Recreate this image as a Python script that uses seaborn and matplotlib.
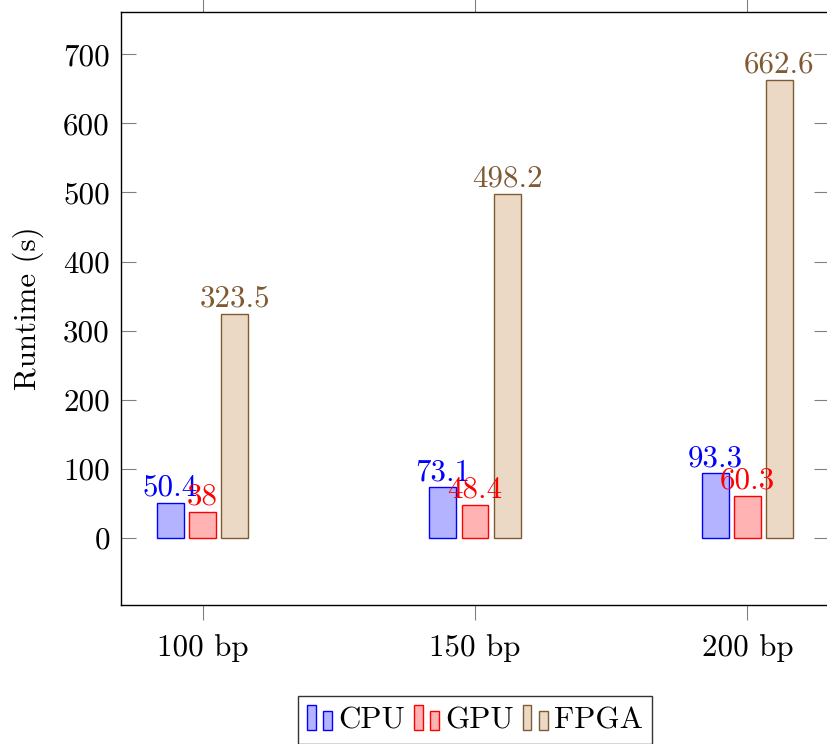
import matplotlib
matplotlib.use("Agg")
import matplotlib.pyplot as plt
import seaborn as sns
import pandas as pd
from matplotlib.patches import Rectangle
from matplotlib.legend_handler import HandlerBase

categories = ["100 bp", "150 bp", "200 bp"]
devices = ["CPU", "GPU", "FPGA"]
cpu = [50.4, 73.1, 93.3]
gpu = [38, 48.4, 60.3]
fpga = [323.5, 498.2, 662.6]
yticks = [0, 100, 200, 300, 400, 500, 600, 700]

fills = {"CPU": "#b3b3ff", "GPU": "#ffb3b3", "FPGA": "#ebd9c5"}
edges = {"CPU": "#0000ff", "GPU": "#ff0000", "FPGA": "#7f5a33"}

rows = []
for d, vals in zip(devices, [cpu, gpu, fpga]):
    for c, v in zip(categories, vals):
        rows.append({"Length": c, "Device": d, "Runtime": v})
df = pd.DataFrame(rows)

sns.set_style("white")
plt.rcParams["font.family"] = ["cmr10", "DejaVu Serif"]
plt.rcParams["axes.formatter.use_mathtext"] = True
plt.rcParams["mathtext.fontset"] = "cm"
plt.rcParams["text.color"] = "black"
plt.rcParams["axes.labelcolor"] = "black"
plt.rcParams["xtick.labelcolor"] = "black"
plt.rcParams["ytick.labelcolor"] = "black"
FS = 22.3

fig = plt.figure(figsize=(8.27, 7.44), dpi=100)
ax = fig.add_axes([121/827, 1-605/744, (829-121)/827, (605-12)/744])

sns.barplot(data=df, x="Length", y="Runtime", hue="Device", order=categories,
            hue_order=devices, palette=fills, width=0.354, gap=0.16,
            saturation=1, errorbar=None, ax=ax, legend=False, linewidth=1)

for cont, d, vals in zip(ax.containers, devices, [cpu, gpu, fpga]):
    for p in cont:
        p.set_edgecolor(edges[d])
        p.set_linewidth(1.0)
    labels = [("%g" % v) for v in vals]
    ax.bar_label(cont, labels=labels, color=edges[d], fontsize=FS, padding=1)

ax.set_xlim(-0.3, 2.3)
ax.set_ylim(-97, 761)
ax.set_yticks(yticks)
ax.set_yticklabels([str(t) for t in yticks])
ax.set_xlabel("")
ax.set_ylabel("Runtime (s)", fontsize=FS, labelpad=14, color="black")

for s in ax.spines.values():
    s.set_color("black")
    s.set_linewidth(1.0)
    s.set_visible(True)

ax.tick_params(axis="y", direction="in", left=True, right=True, length=11,
               width=0.8, color="#808080", labelsize=FS, pad=8, labelcolor="black")
ax.tick_params(axis="x", direction="out", bottom=True, top=True, length=11,
               width=0.8, color="#808080", labelsize=FS, pad=10, labelcolor="black")


class TwoBarHandler(HandlerBase):
    def create_artists(self, legend, orig_handle, xdescent, ydescent,
                       width, height, fontsize, trans):
        fc = orig_handle.get_facecolor()
        ec = orig_handle.get_edgecolor()
        w = width * 0.34
        r1 = Rectangle((-xdescent, -ydescent), w, height, facecolor=fc,
                       edgecolor=ec, linewidth=1.0, transform=trans)
        r2 = Rectangle((-xdescent + width * 0.66, -ydescent), w, height * 0.76,
                       facecolor=fc, edgecolor=ec, linewidth=1.0, transform=trans)
        return [r1, r2]


handles = [Rectangle((0, 0), 1, 1, facecolor=fills[d], edgecolor=edges[d]) for d in devices]
leg = fig.legend(handles, devices, loc="upper center", bbox_to_anchor=(475/827, 1-696/744),
                 ncol=3, fontsize=FS, frameon=True, fancybox=False, edgecolor="black",
                 handler_map={Rectangle: TwoBarHandler()}, handlelength=0.8,
                 handleheight=0.85, handletextpad=0.2, columnspacing=0.3,
                 borderpad=0.3, borderaxespad=0)
leg.get_frame().set_linewidth(1.0)

fig.savefig("out.png", dpi=100)
